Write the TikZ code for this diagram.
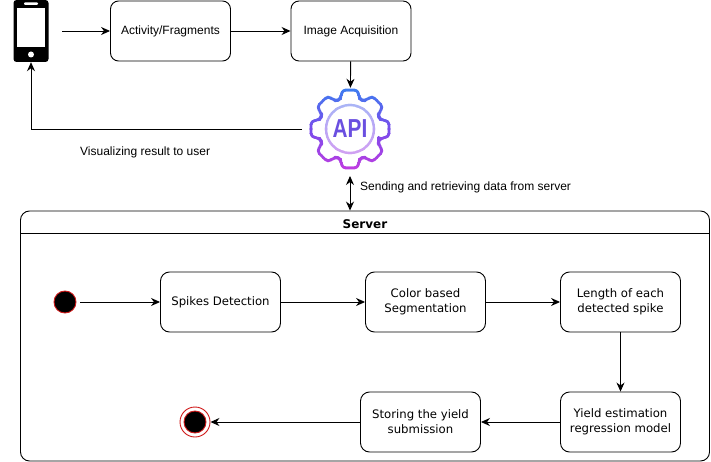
\documentclass[tikz,border=0pt]{standalone}
\usepackage{fontspec}
\setmainfont{Liberation Sans}
\newfontfamily\dv{DejaVu Sans}
\usetikzlibrary{arrows.meta}
\definecolor{startred}{HTML}{D01818}
\definecolor{apiviolet}{HTML}{6A4FE0}
\definecolor{ca}{HTML}{3E7CF0}
\definecolor{cb}{HTML}{7A4CEB}
\definecolor{cc}{HTML}{C43BE0}
\tikzset{
  conn/.style={draw=black,line width=0.9pt,-{Stealth[length=9pt,width=8pt]}},
  twoway/.style={draw=black,line width=0.9pt,{Stealth[length=9pt,width=8pt]}-{Stealth[length=9pt,width=8pt]}},
  appbox/.style={draw=black,line width=0.9pt,rounded corners=8pt,minimum width=120pt,minimum height=60pt,inner sep=0pt,align=center,font=\fontsize{12}{15}\selectfont},
  srvbox/.style={draw=black,line width=0.9pt,rounded corners=9pt,minimum width=120pt,minimum height=60pt,inner sep=0pt,align=center,font=\dv\fontsize{11.7}{15}\selectfont},
  lab/.style={inner sep=0pt,font=\fontsize{12}{14}\selectfont},
  startdot/.style={circle,fill=black,draw=startred,line width=0.9pt,minimum size=22pt,inner sep=0pt},
  gearline/.style={line width=2.8pt,line join=round},
}
\begin{document}
\begin{tikzpicture}[x=1pt,y=-1pt]
\useasboundingbox (0,0) rectangle (711,462);
\fill[white] (0,0) rectangle (711,462);
% phone
\fill[black,rounded corners=3pt] (13.5,0) rectangle (48.5,62);
\fill[white] (17,8) rectangle (45,47);
\fill[white,rounded corners=1pt] (24,2.5) rectangle (38,5);
\fill[white] (31,54.5) circle (3);
\node[minimum width=35pt,minimum height=62pt,inner sep=0pt] (phone) at (31,31) {};
\coordinate (phoneout) at (62,31);
% boxes
\node[appbox] (act) at (170.5,31) {Activity/Fragments};
\node[appbox] (img) at (351,31) {Image Acquisition};
% API gear
\node[minimum size=82pt,inner sep=0pt] (api) at (350,129) {};
\foreach \i [evaluate=\i as \t using \i/20, evaluate=\i as \yy using 87+\i*4.2] in {0,...,20}{
  \pgfmathsetmacro{\mixa}{min(100,\t*200)}
  \pgfmathsetmacro{\mixb}{max(0,(\t-0.5)*200)}
  \colorlet{gc}{cc!\mixb!cb}
  \ifdim\t pt<0.5pt \colorlet{gc}{cb!\mixa!ca}\fi
  \colorlet{rc}{gc!50!white}
  \begin{scope}
    \clip (300,\yy) rectangle (400,\yy+4.4);
    \draw[gearline,draw=gc,rounded corners=3.5pt,shift={(350,129)}]
      (22.5:31)
      \foreach \a in {45,90,135,180,225,270,315,360}{
        -- (\a-17:32) -- (\a-11:39.8) -- (\a+11:39.8) -- (\a+17:32) -- (\a+22.5:31)
      } -- cycle;
    \draw[line width=2.4pt,draw=rc] (350,129) circle (24);
  \end{scope}
}
\node[inner sep=0pt,text=apiviolet,font=\fontsize{26}{26}\selectfont\bfseries,xscale=0.8] (apitext) at (350,129) {API};
% top arrows
\draw[conn] (phoneout) -- (act);
\draw[conn] (act) -- (img);
\draw[conn] (img) -- (api);
\coordinate (apileft) at (302,129);
\draw[conn] (apileft) -| (phone);
\node[lab,anchor=west] (vis) at (80,152) {Visualizing result to user};
\node[lab,anchor=west] (send) at (360,187) {Sending and retrieving data from server};
% server
\node[draw=black,line width=0.9pt,rounded corners=9pt,minimum width=689pt,minimum height=250pt,inner sep=0pt] (server) at (365,336) {};
\coordinate (hl) at (21,233);
\coordinate (hr) at (709,233);
\draw[line width=0.9pt] (hl) -- (hr);
\node[inner sep=0pt,font=\dv\bfseries\fontsize{12}{14}\selectfont] (title) at (365,224.5) {Server};
\coordinate (apibelow) at (350,176);
\draw[twoway] (apibelow) -- (apibelow |- server.north);
\node[startdot] (start) at (65,302) {};
\node[srvbox] (spikes) at (220.5,302) {Spikes Detection};
\node[srvbox] (color) at (425.5,302) {Color based\\Segmentation};
\node[srvbox] (length) at (620.5,302) {Length of each\\detected spike};
\node[srvbox] (yield) at (620.5,422) {Yield estimation\\regression model};
\node[srvbox] (store) at (420.5,422) {Storing the yield\\submission};
\node[startdot] (endin) at (195,422) {};
\node[circle,draw=startred,line width=0.9pt,minimum size=30pt,inner sep=0pt] (endout) at (195,422) {};
\draw[conn] (start) ++(15,0) -- (spikes);
\draw[conn] (spikes) -- (color);
\draw[conn] (color) -- (length);
\draw[conn] (length) -- (yield);
\draw[conn] (yield) -- (store);
\draw[conn] (store) -- (endout);
\end{tikzpicture}
\end{document}
